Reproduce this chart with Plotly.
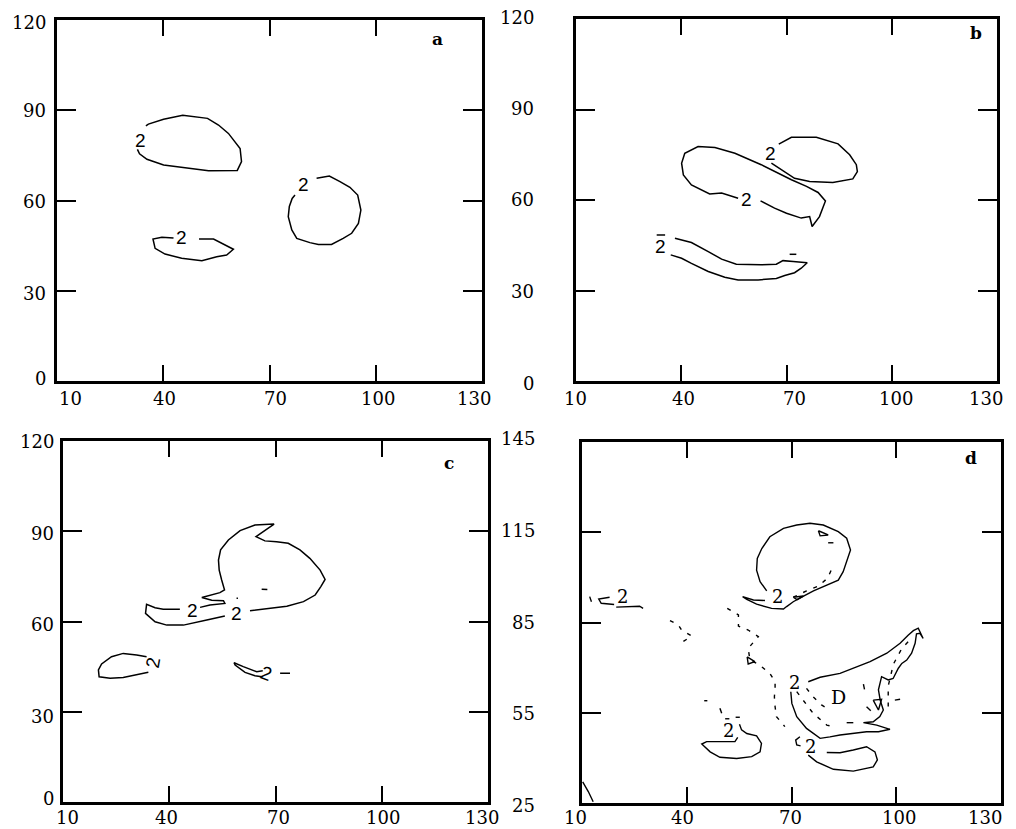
import plotly.graph_objects as go

# ---------------- axes / ticks ----------------
X_TICKS = [10, 40, 70, 100, 130]
X_TICK_LABELS = ["10", "40", "70", "100", "130"]
Y_TICKS_ABC = [0, 30, 60, 90, 120]
Y_TICK_LABELS_ABC = ["0", "30", "60", "90", "120"]
Y_TICKS_D = [25, 55, 85, 115, 145]
Y_TICK_LABELS_D = ["25", "55", "85", "115", "145"]
PANEL_NAMES = ["a", "b", "c", "d"]
CONTOUR_LEVEL = "2"

# ---------------- panel a ----------------
A1_X = [35.1, 35.8, 40.1, 45.5, 52.5, 55.6, 58.4, 61.7, 62.1, 60.9, 52.8, 40.1, 35.4, 33.3, 32.7]
A1_Y = [84.8, 85.4, 87.0, 88.3, 87.3, 85.1, 82.3, 77.3, 72.9, 70.0, 69.9, 71.8, 73.7, 75.5, 77.0]
A2_X = [83.3, 86.9, 89.9, 92.7, 94.9, 95.8, 95.1, 93.2, 90.8, 87.5, 83.8, 81.4, 77.7, 76.3, 75.3, 75.6, 76.4, 77.2]
A2_Y = [67.4, 68.1, 66.3, 64.4, 61.8, 56.8, 52.4, 49.1, 47.4, 45.4, 45.4, 46.0, 47.4, 50.2, 54.6, 58.0, 60.7, 61.8]
A3_X = [50.1, 54.2, 59.8, 57.9, 55.1, 50.9, 45.2, 40.5, 37.7, 37.1, 39.6, 42.9]
A3_Y = [47.2, 47.2, 43.8, 41.9, 41.3, 40.0, 40.8, 42.2, 44.1, 47.2, 47.8, 47.5]
A_LAB_X = [33.5, 79.5, 45.2]
A_LAB_Y = [79.9, 65.2, 47.8]
A_LAB_ANG = [0, 0, 0]

# ---------------- panel b ----------------
B1_X = [67.8, 71.4, 78.5, 84.7, 88.0, 89.9, 90.2, 88.9, 83.2, 76.6, 72.3, 70.0, 65.7]
B1_Y = [78.5, 80.8, 80.8, 78.6, 75.0, 71.7, 69.4, 67.0, 65.8, 66.1, 67.2, 68.9, 72.2]
B2_X = [62.6, 66.6, 70.0, 74.2, 76.6, 77.3, 79.4, 81.1, 79.0, 75.7, 71.4, 62.8, 55.3, 49.6, 44.8,
        41.0, 40.1, 40.6, 42.9, 48.1, 51.5, 56.2]
B2_Y = [59.7, 57.3, 55.6, 54.0, 54.5, 51.2, 54.5, 59.7, 62.5, 64.5, 66.7, 71.7, 75.5, 77.4, 77.7,
        75.5, 72.2, 68.3, 65.0, 62.0, 62.3, 60.6]
B3_X = [38.2, 42.9, 47.7, 51.5, 55.7, 62.8, 67.1, 69.0, 71.9, 75.9, 74.2, 72.3, 69.5, 67.1, 61.9,
        56.2, 52.4, 47.7, 42.9, 40.1, 37.0]
B3_Y = [47.3, 45.9, 42.9, 40.4, 38.7, 38.5, 38.7, 39.9, 39.6, 39.2, 37.4, 35.9, 35.0, 34.0, 33.5,
        33.5, 34.4, 36.3, 39.0, 40.7, 41.8]
B4_X = [33.0, 35.4, None, 70.9, 72.8]
B4_Y = [48.4, 48.4, None, 42.0, 42.0]
B_LAB_X = [65.4, 58.6, 34.2]
B_LAB_Y = [75.3, 60.3, 44.6]
B_LAB_ANG = [0, 0, 0]

# ---------------- panel c ----------------
C1_X = [62.8, 68.4, 73.2, 77.9, 81.2, 82.8, 84.0, 82.6, 79.7, 76.9, 73.6, 70.3, 67.0, 64.5, 69.6,
        64.2, 60.0, 56.7, 54.5, 53.9, 54.1, 54.8, 55.6, 54.3, 51.5, 49.2, 52.0, 55.3, 55.7, 51.5, 48.7]
C1_Y = [63.6, 64.4, 65.1, 66.6, 68.8, 71.6, 74.0, 77.1, 81.0, 83.8, 86.0, 86.5, 86.8, 88.2, 92.4,
        92.1, 90.2, 87.1, 83.8, 80.4, 77.1, 73.8, 70.5, 69.6, 68.8, 68.0, 67.1, 66.9, 66.0, 65.5, 64.7]
C2_X = [43.0, 38.3, 36.0, 33.6, 33.3, 36.0, 39.3, 44.0, 50.6, 55.7]
C2_Y = [64.1, 64.1, 64.6, 65.7, 62.7, 59.9, 58.8, 58.8, 60.5, 61.8]
C3_X = [33.6, 30.8, 27.0, 23.7, 20.9, 20.0, 20.2, 23.3, 27.0, 30.8, 34.1]
C3_Y = [48.3, 48.9, 49.4, 48.3, 45.9, 43.9, 41.6, 41.1, 41.4, 42.4, 43.1]
C4_X = [66.4, 64.7, 60.9, 58.3, 58.6, 61.4, 64.2, 66.1]
C4_Y = [43.6, 43.3, 45.0, 46.3, 45.5, 43.1, 42.0, 41.6]
C5_X = [59.0, 59.4, None, 66.1, 67.7, None, 71.3, 74.1]
C5_Y = [67.7, 67.7, None, 70.7, 70.6, None, 42.8, 42.8]
C_LAB_X = [46.6, 59.0, 35.5, 67.5]
C_LAB_Y = [63.8, 62.5, 46.3, 42.8]
C_LAB_ANG = [0, 0, -80, 20]

# ---------------- panel d ----------------
D1_X = [62.9, 61.0, 60.0, 60.2, 61.5, 63.8, 67.7, 71.5, 75.3, 79.1, 83.4, 85.8, 86.9, 86.0, 84.8,
        83.4, 79.6, 76.3, 72.9, 70.5, 68.6, 67.7, 64.3, 60.0, 57.2, 56.0, 59.1, 62.4]
D1_Y = [95.5, 98.6, 102.4, 106.3, 109.6, 113.5, 116.3, 117.4, 118.0, 117.4, 115.2, 113.0, 109.1, 105.8, 101.9,
        99.1, 97.1, 95.5, 93.4, 91.9, 90.3, 89.5, 89.7, 91.1, 92.7, 93.6, 92.5, 92.3]
D2_X = [74.8, 78.2, 83.9, 87.7, 92.5, 97.3, 101.1, 103.4, 104.9, 106.3, 107.7, 106.8, 105.8, 105.4,
        104.4, 103.0, 101.6, 100.6, 99.1, 97.7, 95.8, 94.9, 95.4, 96.3, 95.3, 93.4, 90.6, 94.4, 98.2,
        94.9, 91.5, 87.7, 83.9, 81.0, 78.2, 74.3, 71.5, 70.1, 69.8]
D2_Y = [65.3, 66.8, 68.1, 69.8, 72.0, 74.8, 78.1, 80.8, 82.3, 83.1, 79.7, 81.4, 81.2, 78.1,
        74.8, 72.5, 71.4, 69.8, 66.4, 65.9, 67.0, 62.6, 59.2, 55.9, 53.7, 52.0, 51.7, 50.9, 49.5,
        48.7, 48.7, 48.2, 47.6, 47.0, 46.5, 49.8, 53.7, 58.1, 62.0]
D3_X = [55.1, 55.7, 57.2, 60.0, 61.4, 61.0, 58.6, 54.3, 49.5, 46.7, 44.3, 45.7, 49.5, 53.8, 54.6]
D3_Y = [51.2, 49.3, 48.1, 47.3, 44.8, 42.0, 40.4, 39.8, 40.2, 42.0, 44.6, 45.4, 45.4, 45.4, 46.8]
D4_X = [80.1, 83.9, 87.7, 91.5, 93.9, 94.6, 93.4, 87.7, 82.0, 77.2, 74.8]
D4_Y = [41.8, 41.7, 42.6, 43.7, 42.0, 39.3, 37.0, 35.6, 36.2, 38.7, 40.9]
D5_X = [72.4, 71.2, 71.5, 72.6, None, 17.9, 14.8, 15.5, 19.2, None, 19.8, 26.5, 27.5,
        None, 10.2, 11.8, 13.2, None, 77.7, 80.5, 78.2, 77.7, None, 70.5, 73.4, 71.6, 70.5,
        None, 57.3, 59.5, 57.6, 57.3, None, 93.4, 94.9, 95.8, 93.4]
D5_Y = [47.0, 45.9, 44.3, 44.0, None, 93.4, 92.8, 91.4, 91.0, None, 90.1, 90.4, 89.7,
        None, 32.0, 28.8, 25.4, None, 115.5, 114.1, 113.8, 115.5, None, 93.4, 93.8, 92.6, 93.4,
        None, 73.6, 72.0, 71.2, 73.6, None, 59.2, 55.9, 59.5, 59.2]
# dashed contour pieces
D6_X = [51.6, 54.8, 54.8, 57.6, 60.5, 57.6, 58.1, 60.5, 63.8, 65.3, 65.3, 65.1, 65.3, 65.7, 68.1]
D6_Y = [89.7, 87.5, 83.8, 82.5, 80.3, 76.4, 72.5, 71.2, 68.1, 65.3, 63.1, 60.3, 57.0, 53.7, 50.4]
D7_X = [35.2, 37.6, 38.5, 41.4, 38.5, None, 70.5, 74.3, 77.7, 80.3, 81.5, None,
        71.5, 73.4, 76.2, 80.1, 82.0, None, 74.3, 76.2, 78.6, 81.0, None,
        103.4, 101.6, 99.2, 97.7, 97.7]
D7_Y = [85.6, 84.2, 82.5, 80.5, 78.3, None, 93.4, 95.5, 97.1, 99.7, 102.7, None,
        62.0, 59.2, 54.8, 50.9, 50.4, None, 63.1, 60.3, 57.6, 55.9, None,
        78.6, 76.4, 71.2, 63.9, 56.5]
D8_X = [12.2, 12.7, None, 80.5, 82.0, None, 85.8, 87.7, None, 99.6, 101.1, None, 90.6, 90.9,
        None, 91.5, 92.7, None, 45.0, 45.9, None, 49.5, 50.0, None, 51.0, 52.2, None, 54.0, 55.2]
D8_Y = [93.6, 91.9, None, 111.5, 111.5, None, 51.7, 51.7, None, 59.2, 59.5, None, 64.5, 62.8,
        None, 57.0, 55.7, None, 59.0, 59.0, None, 56.5, 54.8, None, 53.0, 53.0, None, 53.5, 53.5]
D_LAB_X = [65.9, 51.9, 71.0, 75.3, 21.7]
D_LAB_Y = [93.8, 49.2, 65.2, 43.7, 93.6]
D_LAB_ANG = [0, 0, 0, 0, 0]
D_CENTRE_TEXT = "D"
D_CENTRE_X = 83.4
D_CENTRE_Y = 60.1

# ---------------- figure ----------------
W, H = 1016, 829
BLACK = "black"
SERIF = "DejaVu Serif"

# frame rectangles in pixels: (left, right, top, bottom)
FRAMES = [(57, 482, 20, 381), (576, 997, 19, 381), (63, 488, 441, 802), (582, 1001, 442, 803)]
Y_RANGES = [(0, 120), (0, 120), (0, 120), (25, 145)]
Y_TICKS = [Y_TICKS_ABC, Y_TICKS_ABC, Y_TICKS_ABC, Y_TICKS_D]
Y_LABELS = [Y_TICK_LABELS_ABC, Y_TICK_LABELS_ABC, Y_TICK_LABELS_ABC, Y_TICK_LABELS_D]
X_LABEL_SHIFT = [[13, 1, 6, 2, -8], [-1, 2, 8, 4, -11], [4, -3, 3, 1, -6], [-7, -4, -1, 3, -16]]
X_LABEL_DROP = [17, 17, 15, 14]
Y_LABEL_SHIFT = [[3, -3, -1, 0, -2], [-2, -1, 0, 1, 1], [4, -5, -3, -2, 0], [-2, -1, 0, 2, 4]]
Y_LABEL_GAP = [10, 41, 8, 46]
LETTER_POS = [(0.896, 0.947), (0.950, 0.961), (0.908, 0.939), (0.928, 0.956)]

fig = go.Figure()
layout = dict(width=W, height=H, margin=dict(l=0, r=0, t=0, b=0),
              paper_bgcolor="white", plot_bgcolor="white", showlegend=False)

annotations = []
for i in range(4):
    n = "" if i == 0 else str(i + 1)
    l, r, t, b = FRAMES[i]
    common = dict(showticklabels=False, ticks="inside", tickwidth=1.5, tickcolor=BLACK,
                  showline=True, linewidth=3, linecolor=BLACK, mirror="ticks",
                  showgrid=False, zeroline=False, fixedrange=True)
    layout["xaxis" + n] = dict(domain=[l / W, r / W], range=[X_TICKS[0], X_TICKS[-1]],
                               tickvals=X_TICKS[1:-1], ticklen=16, anchor="y" + n, **common)
    layout["yaxis" + n] = dict(domain=[1 - b / H, 1 - t / H], range=list(Y_RANGES[i]),
                               tickvals=Y_TICKS[i][1:-1], ticklen=19, anchor="x" + n, **common)
    # tick labels
    for k, (v, lab) in enumerate(zip(X_TICKS, X_TICK_LABELS)):
        annotations.append(dict(x=v, y=0, xref="x" + n, yref="y" + n + " domain", text=lab,
                                showarrow=False, xanchor="center", yanchor="middle",
                                xshift=X_LABEL_SHIFT[i][k], yshift=-X_LABEL_DROP[i], borderpad=0,
                                font=dict(family=SERIF, size=18, color=BLACK)))
    for k, (v, lab) in enumerate(zip(Y_TICKS[i], Y_LABELS[i])):
        annotations.append(dict(x=0, y=v, xref="x" + n + " domain", yref="y" + n, text=lab,
                                showarrow=False, xanchor="right", yanchor="middle",
                                xshift=-Y_LABEL_GAP[i], yshift=Y_LABEL_SHIFT[i][k], borderpad=0,
                                font=dict(family=SERIF, size=18, color=BLACK)))
    lx, ly = LETTER_POS[i]
    annotations.append(dict(x=lx, y=ly, xref="x" + n + " domain", yref="y" + n + " domain",
                            text="<b>" + PANEL_NAMES[i] + "</b>", showarrow=False,
                            xanchor="center", yanchor="middle",
                            font=dict(family=SERIF, size=17, color=BLACK)))


def add_line(xs, ys, panel, dash="solid", width=1.5):
    n = "" if panel == 0 else str(panel + 1)
    fig.add_trace(go.Scatter(x=xs, y=ys, mode="lines", xaxis="x" + n, yaxis="y" + n,
                             line=dict(color=BLACK, width=width, dash=dash),
                             hoverinfo="skip", connectgaps=False))


def add_labels(xs, ys, angs, panel, family, size):
    n = "" if panel == 0 else str(panel + 1)
    for x, y, a in zip(xs, ys, angs):
        annotations.append(dict(x=x, y=y, xref="x" + n, yref="y" + n, text=CONTOUR_LEVEL,
                                showarrow=False, textangle=a, borderpad=0,
                                font=dict(family=family, size=size, color=BLACK)))


for xs, ys in [(A1_X, A1_Y), (A2_X, A2_Y), (A3_X, A3_Y)]:
    add_line(xs, ys, 0)
add_labels(A_LAB_X, A_LAB_Y, A_LAB_ANG, 0, "Liberation Sans", 19)

for xs, ys in [(B1_X, B1_Y), (B2_X, B2_Y), (B3_X, B3_Y), (B4_X, B4_Y)]:
    add_line(xs, ys, 1)
add_labels(B_LAB_X, B_LAB_Y, B_LAB_ANG, 1, "Liberation Sans", 19)

for xs, ys in [(C1_X, C1_Y), (C2_X, C2_Y), (C3_X, C3_Y), (C4_X, C4_Y), (C5_X, C5_Y)]:
    add_line(xs, ys, 2)
add_labels(C_LAB_X, C_LAB_Y, C_LAB_ANG, 2, "Liberation Sans", 19)

for xs, ys in [(D1_X, D1_Y), (D2_X, D2_Y), (D3_X, D3_Y), (D4_X, D4_Y), (D5_X, D5_Y), (D8_X, D8_Y)]:
    add_line(xs, ys, 3, width=1.4)
for xs, ys in [(D6_X, D6_Y), (D7_X, D7_Y)]:
    add_line(xs, ys, 3, dash="4px,7px", width=1.4)
add_labels(D_LAB_X, D_LAB_Y, D_LAB_ANG, 3, SERIF, 18)
annotations.append(dict(x=D_CENTRE_X, y=D_CENTRE_Y, xref="x4", yref="y4", text=D_CENTRE_TEXT,
                        showarrow=False, font=dict(family=SERIF, size=19, color=BLACK)))

layout["annotations"] = annotations
fig.update_layout(**layout)
fig.write_html("out.html", config={"displayModeBar": False},
               post_script="document.body.style.margin='0';")
